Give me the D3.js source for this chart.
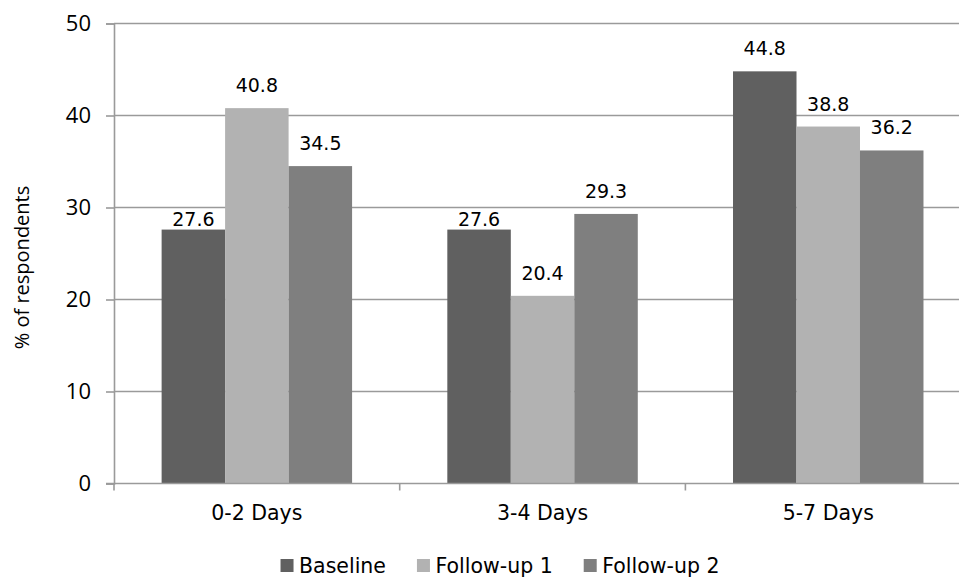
<!DOCTYPE html>
<html>
<head>
<meta charset="utf-8">
<script src="https://cdn.jsdelivr.net/npm/d3@7"></script>
<style>
  html, body { margin: 0; padding: 0; background: #fff; }
  svg { display: block; }
</style>
</head>
<body>
<svg id="chart" width="959" height="581"></svg>
<script>
// ---- data ----
const categories = ["0-2 Days", "3-4 Days", "5-7 Days"];
const seriesNames = ["Baseline", "Follow-up 1", "Follow-up 2"];
const baselineValues = [27.6, 27.6, 44.8];
const followUp1Values = [40.8, 20.4, 38.8];
const followUp2Values = [34.5, 29.3, 36.2];
const yTicks = [0, 10, 20, 30, 40, 50];
const seriesColors = ["#606060", "#b2b2b2", "#7f7f7f"];

const seriesValues = [baselineValues, followUp1Values, followUp2Values];

(function () {
const svg = d3.select("#chart");
const pLeft = 114, pTop = 23.5, pBottom = 483.5, bandW = 285.7;
const pRight = pLeft + bandW * categories.length;

const x0 = d3.scaleBand().domain(categories).range([pLeft, pRight]).padding(0);
const x1 = d3.scaleBand().domain(seriesNames).range([0, x0.bandwidth()])
  .paddingInner(0).paddingOuter(0.75);
const y = d3.scaleLinear().domain([0, 50]).range([pBottom, pTop]);

// gridlines
svg.append("g").selectAll("line").data(yTicks.filter(d => d > 0)).join("line")
  .attr("x1", pLeft).attr("x2", pRight)
  .attr("y1", d => y(d)).attr("y2", d => y(d))
  .attr("stroke", "#9a9a9a").attr("stroke-width", 1.6);

// bars
const rows = [];
categories.forEach((c, i) => {
  seriesNames.forEach((s, j) => rows.push({ cat: c, series: s, j, value: seriesValues[j][i] }));
});

svg.append("g").selectAll("rect").data(rows).join("rect")
  .attr("x", d => x0(d.cat) + x1(d.series))
  .attr("y", d => y(d.value))
  .attr("width", x1.bandwidth())
  .attr("height", d => y(0) - y(d.value))
  .attr("fill", d => seriesColors[d.j]);

// y axis
const yAxis = d3.axisLeft(y).tickValues(yTicks).tickSize(8).tickPadding(15).tickFormat(d3.format("d"));
const gy = svg.append("g").attr("transform", `translate(${pLeft},0)`).call(yAxis);
gy.select(".domain").attr("stroke", "#9a9a9a").attr("stroke-width", 1.6);
gy.selectAll(".tick line").attr("stroke", "#9a9a9a").attr("stroke-width", 1.6);
gy.selectAll(".tick text").attr("font-family", "'Open Sans', sans-serif")
  .attr("font-size", 22).attr("fill", "#000");

// x axis baseline and tick marks at band boundaries
const gx = svg.append("g");
gx.append("line").attr("x1", pLeft - 8).attr("x2", pRight).attr("y1", pBottom).attr("y2", pBottom)
  .attr("stroke", "#9a9a9a").attr("stroke-width", 1.6);
const boundaries = categories.map(c => x0(c)).concat([pRight]);
gx.selectAll("line.tk").data(boundaries).join("line").attr("class", "tk")
  .attr("x1", d => d).attr("x2", d => d).attr("y1", pBottom).attr("y2", pBottom + 7)
  .attr("stroke", "#9a9a9a").attr("stroke-width", 1.6);
gx.selectAll("text").data(categories).join("text")
  .attr("x", d => x0(d) + x0.bandwidth() / 2).attr("y", 520)
  .attr("text-anchor", "middle")
  .attr("font-family", "'DejaVu Sans', sans-serif").attr("font-size", 20.5).attr("fill", "#000")
  .text(d => d);

// data labels: above bar; if label would cross a gridline, sit just above bar
const labelSize = 19, capH = labelSize * 0.73;
svg.append("g").selectAll("text").data(rows).join("text")
  .attr("x", d => x0(d.cat) + x1(d.series) + x1.bandwidth() / 2)
  .attr("y", d => {
    const barTop = y(d.value);
    let base = barTop - 16;
    const crosses = yTicks.some(t => y(t) < base + 1 && y(t) > base - capH - 1);
    if (crosses) base = barTop - 3.5;
    return base;
  })
  .attr("text-anchor", "middle")
  .attr("font-family", "'DejaVu Sans', sans-serif").attr("font-size", labelSize).attr("fill", "#000")
  .text(d => d3.format(".1f")(d.value));

// y axis title
svg.append("text")
  .attr("transform", `translate(29,${(pTop + pBottom) / 2 + 14}) rotate(-90)`)
  .attr("text-anchor", "middle")
  .attr("font-family", "'Open Sans', sans-serif").attr("font-size", 20).attr("fill", "#000")
  .text("% of respondents");

// legend
const legend = svg.append("g");
const items = legend.selectAll("g").data(seriesNames).join("g");
items.append("rect").attr("width", 13).attr("height", 13).attr("y", -14)
  .attr("fill", (d, i) => seriesColors[i]);
items.append("text").attr("x", 18.5).attr("y", 0)
  .attr("font-family", "'DejaVu Sans', sans-serif").attr("font-size", 20.5).attr("fill", "#000")
  .text(d => d);
const widths = [];
items.each(function () { widths.push(18.5 + this.querySelector("text").getComputedTextLength()); });
const gap = 31;
const total = d3.sum(widths) + gap * (widths.length - 1);
const startX = 500 - total / 2;
items.attr("transform", (d, i) => {
  const tx = startX + d3.sum(widths.slice(0, i)) + gap * i;
  return `translate(${tx},573)`;
});
})();
</script>
</body>
</html>
